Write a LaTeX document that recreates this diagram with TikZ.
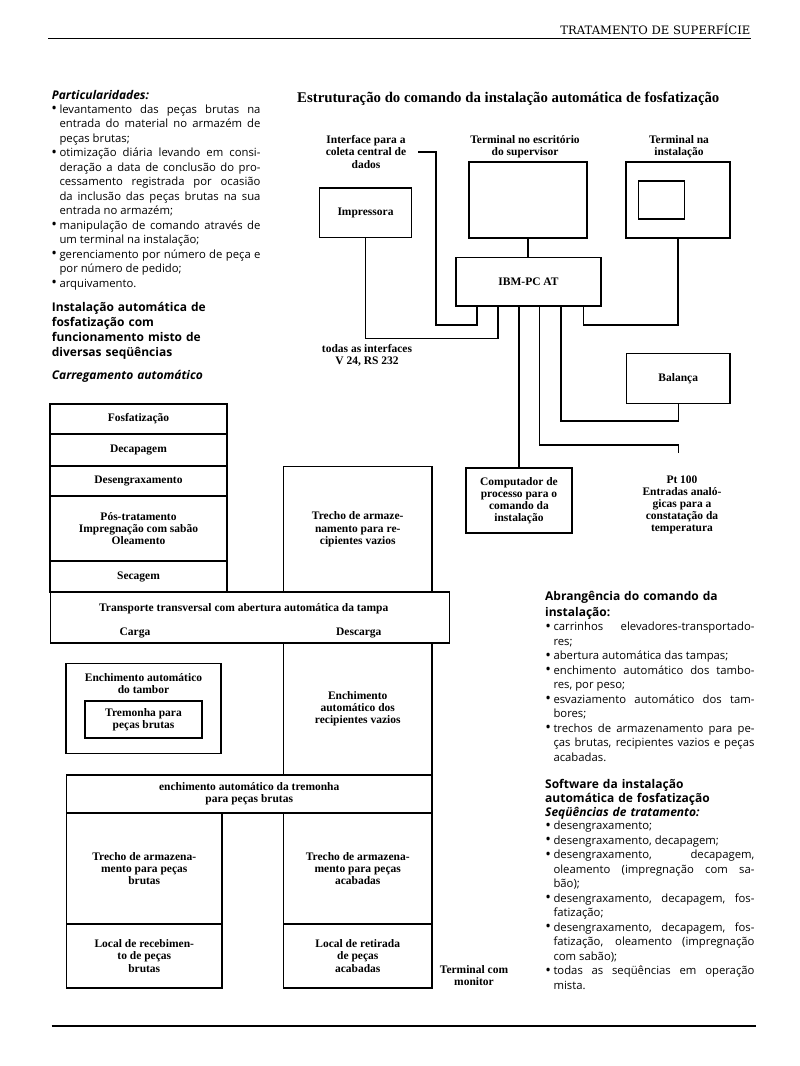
\documentclass[tikz,border=0pt]{standalone}
\usepackage{fontspec}
\setmainfont{Liberation Serif}
\newfontfamily\colfont{Open Sans}
\newfontfamily\hdrfont{DejaVu Serif}
\usetikzlibrary{positioning}

\newcommand\lblfont{\bfseries\fontsize{11.5}{12.1}\selectfont}
\newcommand\colbody{\colfont\fontsize{11.3}{14.5}\selectfont\hbadness=10000\hfuzz=3pt\exhyphenpenalty=10000\hyphenpenalty=10000}
\newcommand\colhead{\colfont\bfseries\fontsize{12}{14.8}\selectfont}
\newcommand\itm{\noindent\llap{\raisebox{-0.6pt}{\fontsize{15}{14.5}\selectfont\textbullet}\hspace{2.5pt}}}

\tikzset{
  box/.style={draw, line width=1.2pt, inner sep=0pt, align=center, font=\lblfont},
  lbl/.style={inner sep=0pt, align=center, font=\lblfont},
  wire/.style={line width=1.2pt},
  coltext/.style={inner sep=0pt, anchor=base west, text width=201pt, align=justify, font=\colbody},
  colhd/.style={inner sep=0pt, anchor=base west, text width=230pt, align=left, font=\colhead},
}

\begin{document}
\begin{tikzpicture}[x=1pt, y=-1pt]

  \fill[white] (0,0) rectangle (800,1066);
  \useasboundingbox (0,0) rectangle (800,1066);

  % page header and rules
  \node[anchor=base east, inner sep=0pt, font=\hdrfont\fontsize{11.6}{12}\selectfont] (hdr) at (750.5,34.3) {TRATAMENTO DE SUPERFÍCIE};
  \draw[line width=1.2pt] (48,38.5) -- (751,38.5);
  \draw[line width=1.2pt] (51.7,1026) -- (756,1026);

  % left column
  \node[colhd] (part) at (51.7,99.3) {\itshape Particularidades:};
  \node[coltext] (partlist) at (59.3,113) {\itm levantamento das peças brutas na\linebreak entrada do material no armazém de\linebreak peças brutas;\par
    \itm otimização diária levando em consi-\linebreak deração a data de conclusão do pro-\linebreak cessamento registrada por ocasião\linebreak da inclusão das peças brutas na sua\linebreak entrada no armazém;\par
    \itm manipulação de comando através de\linebreak um terminal na instalação;\par
    \itm gerenciamento por número de peça e\linebreak por número de pedido;\par
    \itm arquivamento.};
  \node[colhd] (inst) at (51.7,311.7) {Instalação automática de\\fosfatização com\\funcionamento misto de\\diversas seqüências};
  \node[colhd] (carreg) at (51.7,379) {\itshape Carregamento automático};

  % right column
  \node[colhd, font=\colfont\bfseries\fontsize{12}{15.3}\selectfont] (abr) at (545,600.7) {Abrangência do comando da\\instalação:};
  \node[coltext] (abrlist) at (553.3,630.7) {\itm carrinhos elevadores-transportado-\linebreak res;\par
    \itm abertura automática das tampas;\par
    \itm enchimento automático dos tambo-\linebreak res, por peso;\par
    \itm esvaziamento automático dos tam-\linebreak bores;\par
    \itm trechos de armazenamento para pe-\linebreak ças brutas, recipientes vazios e peças\linebreak acabadas.};
  \node[colhd, font=\colfont\bfseries\fontsize{12}{14}\selectfont] (soft) at (545,788) {Software da instalação\\automática de fosfatização};
  \node[colhd] (seq) at (545,816) {\itshape Seqüências de tratamento:};
  \node[coltext] (seqlist) at (553.3,829.5) {\itm desengraxamento;\par
    \itm desengraxamento, decapagem;\par
    \itm desengraxamento, decapagem,\linebreak oleamento (impregnação com sa-\linebreak bão);\par
    \itm desengraxamento, decapagem, fos-\linebreak fatização;\par
    \itm desengraxamento, decapagem, fos-\linebreak fatização, oleamento (impregnação\linebreak com sabão);\par
    \itm todas as seqüências em operação\linebreak mista.};

  % command structure
  \node[anchor=base west, inner sep=0pt, font=\bfseries\fontsize{14.8}{16}\selectfont] (title) at (297,102.7) {Estruturação do comando da instalação automática de fosfatização};

  \node[lbl] (ifctxt) at (366,152) {Interface para a\\coleta central de\\dados};
  \node[lbl] (tsuptxt) at (525,147) {Terminal no escritório\\do supervisor};
  \node[lbl] (tinsttxt) at (679,147) {Terminal na\\instalação};

  \node[box, minimum width=92pt, minimum height=49.5pt] (imp) at (365.5,212.75) {Impressora};
  \node[box, minimum width=118pt, minimum height=76pt] (tsup) at (528,200) {};
  \node[box, minimum width=104pt, minimum height=76pt] (tinst) at (678,200) {};
  \node[box, minimum width=46pt, minimum height=38pt] (tscreen) at (661.5,200) {};
  \node[box, minimum width=145pt, minimum height=48.5pt] (ibm) at (528.5,281.75) {IBM-PC AT};
  \node[box, minimum width=103.5pt, minimum height=50pt] (bal) at (678.25,378.5) {Balança};
  \node[box, minimum width=106pt, minimum height=65pt] (comp) at (519,500.5) {Computador de\\processo para o\\comando da\\instalação};

  \node[lbl] (intftxt) at (367,355) {todas as interfaces\\V 24, RS 232};
  \node[lbl] (pt) at (682,505) {Pt 100\\Entradas analó-\\gicas para a\\constatação da\\temperatura};

  \coordinate (tap1) at (477,306);
  \coordinate (tap2) at (498,306);
  \coordinate (tap3) at (519,306);
  \coordinate (tap4) at (539.5,306);
  \coordinate (tap5) at (561,306);
  \coordinate (tap6) at (583.5,306);
  \coordinate (ifc) at (436,152);
  \coordinate (ifctip) at (418,152);
  \coordinate (ptend) at (678.3,453);

  \draw[wire] (tsup.south) -- (tsup.south |- ibm.north);
  \draw[wire] (tap1) -- ++(0,19) -| (ifc) -- (ifctip);
  \draw[wire] (tap2) -- ++(0,32.5) -| (imp.south);
  \draw[wire] (tap3) -- (comp.north);
  \draw[wire] (tap4) -- ++(0,139) -| (ptend);
  \draw[wire] (tap5) -- ++(0,115) -| (bal.south);
  \draw[wire] (tap6) -- ++(0,19) -| (tinst.south);

  % plant layout
  \node[box, minimum width=177pt, minimum height=30pt] (fosf) at (138.5,419) {Fosfatização};
  \node[box, minimum width=177pt, minimum height=32pt] (decap) at (138.5,450) {Decapagem};
  \node[box, minimum width=177pt, minimum height=30pt] (deseng) at (138.5,481) {Desengraxamento};
  \node[box, minimum width=177pt, minimum height=65pt] (pos) at (138.5,528.5) {Pós-tratamento\\Impregnação com sabão\\Oleamento};
  \node[box, minimum width=177pt, minimum height=31pt] (sec) at (138.5,576.5) {Secagem};
  \node[box, minimum width=148.5pt, minimum height=125.5pt] (vazios) at (357.75,529.25) {Trecho de armaze-\\namento para re-\\cipientes vazios};

  \node[box, minimum width=399pt, minimum height=51pt] (transp) at (250,617.5) {};
  \node[lbl, anchor=base] (transptxt) at (243.7,611.7) {Transporte transversal com abertura automática da tampa};
  \node[lbl, anchor=base] (carga) at (135,635) {Carga};
  \node[lbl, anchor=base] (descarga) at (358.8,635) {Descarga};

  \node[box, minimum width=155pt, minimum height=90pt] (tamb) at (143.5,708.5) {};
  \node[lbl] (tambtxt) at (143.5,683.5) {Enchimento automático\\do tambor};
  \node[box, minimum width=117pt, minimum height=37pt] (trem) at (143.5,719.5) {Tremonha para\\peças brutas};
  \node[box, minimum width=148.5pt, minimum height=132pt] (encrec) at (357.75,709) {Enchimento\\automático dos\\recipientes vazios};

  \node[box, minimum width=365.5pt, minimum height=38pt] (enctrem) at (249.25,794) {enchimento automático da tremonha\\para peças brutas};
  \node[box, minimum width=155.5pt, minimum height=111pt] (armbr) at (144.25,868.5) {Trecho de armazena-\\mento para peças\\brutas};
  \node[box, minimum width=155.5pt, minimum height=64pt] (receb) at (144.25,956) {Local de recebimen-\\to de peças\\brutas};
  \node[box, minimum width=148.5pt, minimum height=111pt] (armac) at (357.75,868.5) {Trecho de armazena-\\mento para peças\\acabadas};
  \node[box, minimum width=148.5pt, minimum height=64pt] (retir) at (357.75,956) {Local de retirada\\de peças\\acabadas};
  \node[lbl] (termon) at (474,976) {Terminal com\\monitor};

\end{tikzpicture}
\end{document}
